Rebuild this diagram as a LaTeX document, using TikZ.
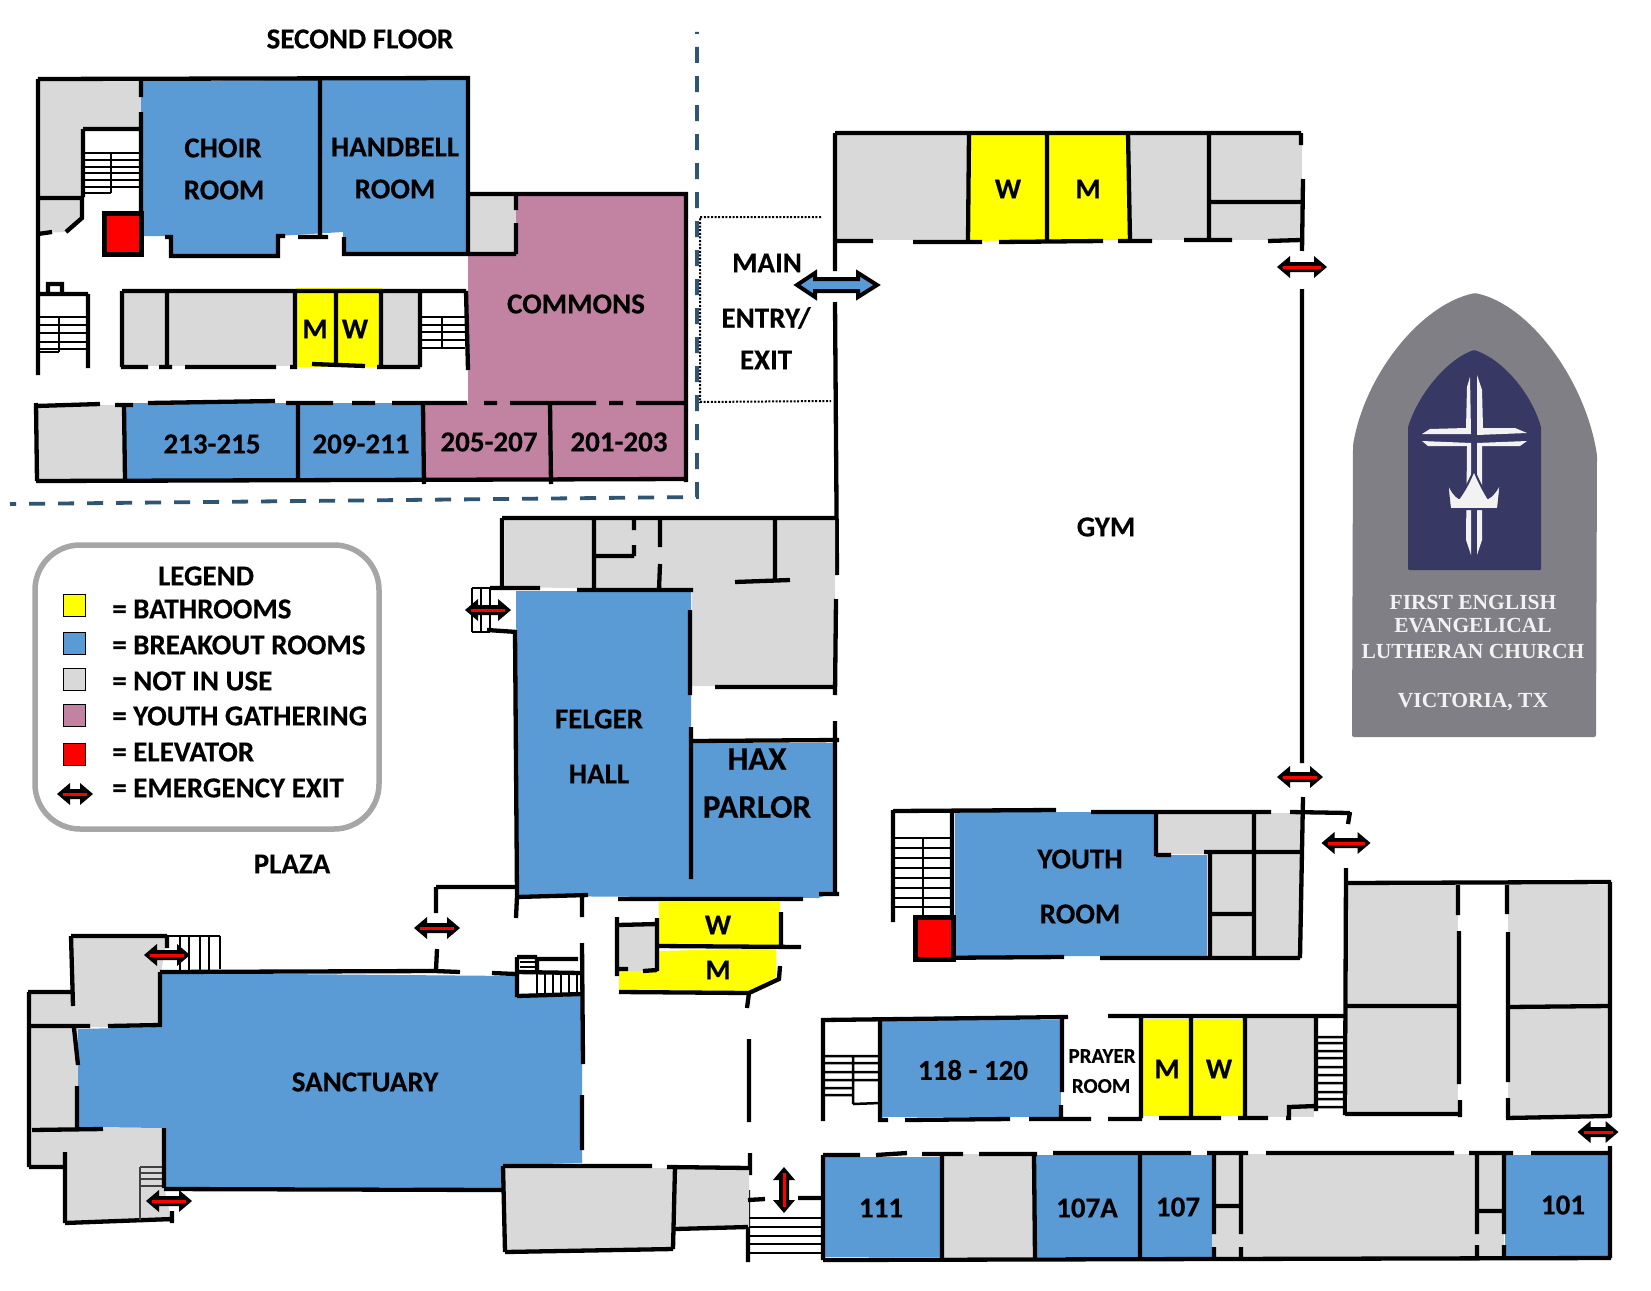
\documentclass[tikz,border=0pt]{standalone}
\usepackage{fontspec}
\setmainfont{Carlito}[BoldFeatures={FakeBold=0.25}]
\newfontfamily\logofont{Liberation Serif}
\definecolor{rblue}{HTML}{5B9BD5}
\definecolor{rgray}{HTML}{D9D9D9}
\definecolor{rpurple}{HTML}{C283A3}
\definecolor{ryellow}{HTML}{FFFF00}
\definecolor{rred}{HTML}{FF0000}
\definecolor{dashblue}{HTML}{2F5573}
\definecolor{logogray}{HTML}{807F85}
\definecolor{logonavy}{HTML}{383864}
\definecolor{logowhite}{HTML}{F2F2F2}
\definecolor{legendline}{HTML}{A6A6A6}
\tikzset{
  wall/.style={line width=4.3pt,black},
  tread/.style={line width=2.5pt,black},
  blueroom/.style={fill=rblue},
  grayroom/.style={fill=rgray},
  yellowroom/.style={fill=ryellow},
  purpleroom/.style={fill=rpurple},
  lift/.style={fill=rred,draw=black,line width=5pt},
  lbl/.style={font=\fontsize{29}{32}\bfseries\selectfont,inner sep=0pt,text=black},
  widelbl/.style={font=\fontsize{33}{36}\bfseries\selectfont,inner sep=0pt,text=black},
  smalllbl/.style={font=\fontsize{21}{24}\bfseries\selectfont,inner sep=0pt,text=black},
  leglbl/.style={font=\fontsize{29}{32}\bfseries\selectfont,inner sep=0pt,text=black,anchor=west},
  swatch/.style={draw=black,line width=0.8pt,minimum width=22pt,minimum height=22pt,inner sep=0pt},
  logotxt/.style={font=\fontsize{21.5}{24}\bfseries\logofont\selectfont,inner sep=0pt,text=logowhite},
}
\newcommand{\exitarw}[4]{%
  \begin{scope}[shift={(#1,#2)},rotate=#4]
    \fill[black] (-#3,0) -- ({-#3+13},-11) -- ({-#3+13},-5) -- ({#3-13},-5) -- ({#3-13},-11) -- (#3,0)
      -- ({#3-13},11) -- ({#3-13},5) -- ({-#3+13},5) -- ({-#3+13},11) -- cycle;
    \draw[rred,line width=3pt] ({-#3+6},0) -- ({#3-6},0);
  \end{scope}}
\begin{document}
\begin{tikzpicture}[x=1pt,y=-1pt]
\useasboundingbox[fill=white] (0,0) rectangle (1651,1290);

%% ---------- second floor fills
\fill[grayroom] (38,79) -- (141,79) -- (141,129) -- (83,129) -- (83,197) -- (38,197) -- cycle;
\fill[grayroom] (38,200) -- (82,200) -- (82,218) -- (66,232) -- (38,233) -- cycle;
\fill[blueroom] (141,81) -- (468,79) -- (468,253) -- (344,253) -- (343,232) -- (278,236) -- (278,255) -- (171,256) -- (170,236) -- (141,236) -- cycle;
\fill[grayroom] (468,196) -- (516,196) -- (516,254) -- (468,254) -- cycle;
\fill[purpleroom] (516,196) -- (686,196) -- (686,403) -- (468,403) -- (468,254) -- (516,254) -- cycle;
\fill[grayroom] (37,405) rectangle (124,480);
\fill[blueroom] (124,403) rectangle (423,480);
\fill[purpleroom] (423,403) rectangle (686,480);
\fill[grayroom] (122,291) rectangle (420,366);
\fill[yellowroom] (296,288) rectangle (382,367);

%% ---------- second floor walls
\draw[wall] (38,79) -- (470,78) (38,79) -- (38,375)
  (141,79) -- (141,97) (141,112) -- (141,236)
  (83,129) -- (141,129) (83,129) -- (83,197) (38,198) -- (83,198)
  (82,197) -- (82,218) -- (66,232) (38,234) -- (52,232)
  (165,237) -- (171,237) -- (171,256) -- (278,256) -- (278,236) -- (285,236)
  (298,237) -- (328,237) (320,79) -- (320,238)
  (344,237) -- (344,254) -- (516,254) (468,79) -- (468,254)
  (468,194) -- (688,194) (686,194) -- (686,482)
  (516,194) -- (516,210) (516,223) -- (516,254)
  (36,406) -- (100,404) (115,405) -- (133,405) (148,403) -- (275,401) (286,403) -- (333,403)
  (352,403) -- (375,403) (392,403) -- (467,403) (484,403) -- (497,403) (510,403) -- (596,403)
  (609,403) -- (623,403) (636,403) -- (686,403)
  (36,481) -- (686,479) (36,403) -- (37,481)
  (124,405) -- (125,480) (298,403) -- (298,480) (423,405) -- (424,484) (550,403) -- (551,484)
  (122,291) -- (466,291) (122,291) -- (122,367)
  (121,367) -- (148,367) (159,367) -- (172,367) (185,367) -- (276,367) (290,367) -- (297,367)
  (312,364) -- (365,366) (377,367) -- (420,367)
  (167,291) -- (167,367) (295,291) -- (295,367) (336,291) -- (336,364) (381,291) -- (381,367) (420,291) -- (420,367)
  (466,291) -- (468,370)
  (38,294) -- (88,294) (88,294) -- (88,368)
  (48,292) -- (48,284) -- (62,284) -- (62,292);
\draw[tread] (83,153) -- (141,153) (83,160) -- (141,160) (83,167) -- (141,167) (83,173) -- (141,173)
  (83,180) -- (141,180) (83,187) -- (141,187) (83,193) -- (111,193) (111,153) -- (111,193)
  (420,317) -- (465,317) (420,325) -- (465,325) (420,332) -- (465,332) (420,340) -- (465,340)
  (420,348) -- (465,348) (442,317) -- (442,347)
  (38,317) -- (88,317) (38,325) -- (88,325) (38,333) -- (88,333) (38,342) -- (88,342) (38,349) -- (88,349)
  (59,317) -- (59,352) (38,352) -- (59,352);
\node[lift,minimum width=37pt,minimum height=41pt,inner sep=0pt] (elevtwo) at (123,234) {};

%% ---------- second floor boundary and entry
\draw[dashblue,line width=3.8pt,dash pattern=on 16pt off 13pt,dash phase=14pt] (697,32) -- (697,497) -- (10,504);
\draw[black,line width=2pt,dash pattern=on 2pt off 1.6pt] (821,217) -- (700,217) -- (700,402) -- (831,401);

%% ---------- gym wing fills
\fill[grayroom] (837,135) rectangle (1302,240);
\fill[yellowroom] (970,135) -- (1128,135) -- (1130,239) -- (968,241) -- cycle;

\draw[wall] (835,133) -- (1301,133) (835,133) -- (835,271) (835,302) -- (837,575)
  (837,241) -- (873,241) (913,242) -- (982,242) (999,242) -- (1103,241) (1118,241) -- (1152,241)
  (1184,240) -- (1232,240) (1268,241) -- (1301,240)
  (969,133) -- (968,241) (1047,133) -- (1047,241) (1128,133) -- (1130,241) (1209,133) -- (1209,239)
  (1209,202) -- (1302,202) (1301,133) -- (1301,145) (1303,179) -- (1302,251)
  (1302,289) -- (1302,763);

%% ---------- Felger wing fills
\fill[grayroom] (505,520) -- (835,520) -- (835,687) -- (692,686) -- (692,590) -- (505,587) -- cycle;
\fill[blueroom] (516,591) -- (691,591) -- (691,743) -- (833,743) -- (833,893) -- (818,898) -- (518,896) -- cycle;
\fill[yellowroom] (659,902) rectangle (780,945);
\fill[yellowroom] (659,951) -- (776,948) -- (776,977) -- (749,991) -- (619,991) -- (619,971) -- (659,971) -- cycle;
\fill[grayroom] (619,927) -- (657,925) -- (657,971) -- (619,971) -- cycle;

\draw[wall] (502,518) -- (837,518) (502,518) -- (502,586)
  (490,588) -- (540,588) (577,590) -- (693,590)
  (594,518) -- (594,590) (634,518) -- (634,530) (634,545) -- (634,556) (594,556) -- (634,556)
  (660,518) -- (660,547) (660,564) -- (659,590)
  (775,518) -- (775,579) (735,582) -- (790,580)
  (836,599) -- (835,695) (835,721) -- (835,895) (715,687) -- (835,687)
  (690,610) -- (690,695) (691,727) -- (691,879)
  (693,741) -- (839,740) (819,894) -- (839,894)
  (487,630) -- (517,632) (515,630) -- (517,896)
  (517,897) -- (588,895) (618,899) -- (803,899)
  (582,897) -- (582,917) (517,896) -- (516,918)
  (617,917) -- (617,976) (617,925) -- (658,924) (657,918) -- (657,971)
  (617,969) -- (628,969) (643,971) -- (657,970) (657,946) -- (801,947) (781,912) -- (781,945)
  (619,992) -- (749,993) -- (779,979) -- (780,966) (749,993) -- (747,1008)
  (749,1039) -- (749,1122) (750,1153) -- (750,1175) (748,1190) -- (748,1262);
\draw[tread] (472,588) -- (490,588) (472,632) -- (490,632) (472,588) -- (472,632) (481,588) -- (481,632) (490,588) -- (490,632);

%% ---------- sanctuary fills
\fill[grayroom] (71,937) -- (167,937) -- (161,973) -- (161,1027) -- (32,1027) -- (29,992) -- (71,992) -- cycle;
\fill[grayroom] (31,1028) -- (78,1028) -- (78,1128) -- (31,1128) -- cycle;
\fill[grayroom] (31,1131) -- (103,1128) -- (164,1128) -- (164,1187) -- (172,1222) -- (65,1223) -- (65,1167) -- (29,1167) -- cycle;
\fill[blueroom] (161,973) -- (516,976) -- (516,997) -- (582,996) -- (582,1163) -- (503,1165) -- (503,1188) -- (164,1187) -- (164,1128) -- (78,1127) -- (78,1029) -- (161,1027) -- cycle;
\fill[grayroom] (505,1168) -- (675,1168) -- (749,1168) -- (749,1227) -- (675,1228) -- (673,1250) -- (505,1250) -- cycle;

\draw[wall] (71,936) -- (167,936) (71,936) -- (73,1006) (28,992) -- (73,992) (29,992) -- (29,1167)
  (29,1167) -- (65,1167) (65,1152) -- (65,1223) (65,1223) -- (172,1219) (172,1211) -- (172,1223)
  (160,972) -- (160,1027) (160,972) -- (435,971) (435,971) -- (460,972) (492,973) -- (516,974)
  (436,887) -- (516,887) (436,887) -- (436,913) (437,949) -- (436,970)
  (31,1026) -- (90,1026) (108,1026) -- (160,1025)
  (74,1028) -- (78,1065) (77,1086) -- (77,1127) (32,1130) -- (103,1129)
  (164,1128) -- (164,1188) (164,1189) -- (503,1190)
  (167,936) -- (167,948)
  (517,957) -- (517,997) (517,957) -- (537,957) (537,959) -- (578,959) (537,957) -- (537,971)
  (517,972) -- (582,973) (517,996) -- (582,994)
  (582,943) -- (583,1064) (582,1095) -- (582,1150)
  (503,1166) -- (652,1166) (667,1167) -- (750,1168) (503,1166) -- (505,1252) (505,1252) -- (673,1249)
  (675,1167) -- (673,1249) (675,1229) -- (748,1227)
  (748,1200) -- (765,1199) (798,1198) -- (823,1198);
\draw[tread] (167,936) -- (220,936) (220,936) -- (220,969) (180,936) -- (180,970) (189,936) -- (189,970)
  (200,936) -- (200,970) (209,936) -- (209,970)
  (520,962) -- (537,962) (520,967) -- (537,967)
  (537,973) -- (537,994) (545,973) -- (545,994) (553,973) -- (553,994) (561,973) -- (561,994) (569,973) -- (569,994) (577,973) -- (577,994)
  (749,1218) -- (823,1218) (749,1227) -- (823,1227) (749,1236) -- (823,1236) (749,1244) -- (823,1244) (749,1253) -- (823,1253);
\draw[line width=1.4pt,black!75] (140,1167) -- (140,1220) (140,1167) -- (162,1167) (140,1173) -- (162,1173) (140,1179) -- (162,1179) (140,1186) -- (162,1186);

%% ---------- youth room wing
\fill[blueroom] (955,812) -- (1155,812) -- (1155,855) -- (1207,855) -- (1207,956) -- (955,956) -- cycle;
\fill[grayroom] (1158,813) -- (1301,813) -- (1300,957) -- (1211,957) -- (1211,854) -- (1158,854) -- cycle;
\draw[wall] (893,811) -- (1056,810) (1091,812) -- (1271,812) (893,810) -- (893,922) (952,812) -- (952,917)
  (914,958) -- (1064,957) (1100,958) -- (1300,958)
  (1156,812) -- (1156,856) (1156,855) -- (1171,855) (1204,852) -- (1301,852)
  (1210,852) -- (1210,958) (1254,812) -- (1254,958) (1210,914) -- (1254,914)
  (1303,797) -- (1300,958) (1290,812) -- (1350,813) (1350,812) -- (1348,824);
\draw[tread] (893,838) -- (952,838) (893,848) -- (952,848) (893,858) -- (952,858) (893,868) -- (952,868)
  (893,878) -- (952,878) (893,888) -- (952,888) (893,898) -- (952,898) (893,907) -- (952,907) (923,838) -- (923,917);
\node[lift,minimum width=38pt,minimum height=42pt,inner sep=0pt] (elevone) at (934,938) {};

%% ---------- east block
\fill[grayroom] (1348,885) rectangle (1458,1113);
\fill[grayroom] (1508,885) rectangle (1609,1116);
\draw[wall] (1346,868) -- (1345,1115) (1346,883) -- (1611,882) (1610,882) -- (1610,1117)
  (1458,885) -- (1458,915) (1459,931) -- (1459,1084) (1460,1100) -- (1460,1117)
  (1507,885) -- (1507,914) (1508,932) -- (1508,1082) (1508,1098) -- (1508,1118)
  (1346,1006) -- (1459,1006) (1508,1007) -- (1610,1006)
  (1345,1114) -- (1460,1114) (1506,1118) -- (1611,1116);

%% ---------- row 118
\fill[blueroom] (882,1020) rectangle (1061,1117);
\fill[yellowroom] (1142,1019) rectangle (1244,1116);
\fill[grayroom] (1247,1018) rectangle (1314,1117);
\draw[wall] (822,1020) -- (1068,1017) (1108,1016) -- (1346,1016) (823,1018) -- (823,1121) (880,1019) -- (880,1122)
  (1062,1019) -- (1062,1092) (1061,1105) -- (1061,1118)
  (880,1120) -- (888,1120) (905,1120) -- (1010,1119) (1029,1119) -- (1091,1119) (1108,1119) -- (1142,1119)
  (1159,1118) -- (1221,1118) (1238,1118) -- (1268,1118) (1286,1118) -- (1291,1118)
  (1141,1017) -- (1141,1118) (1191,1017) -- (1191,1117) (1245,1017) -- (1245,1118) (1316,1017) -- (1316,1111)
  (1289,1119) -- (1289,1107) -- (1316,1106);
\draw[tread] (823,1056) -- (880,1056) (823,1063) -- (880,1063) (823,1072) -- (880,1072) (823,1080) -- (880,1080)
  (823,1088) -- (853,1088) (823,1095) -- (853,1095) (853,1056) -- (853,1104) (853,1104) -- (880,1103)
  (1317,1037) -- (1345,1037) (1317,1043) -- (1345,1043) (1317,1051) -- (1345,1051) (1317,1058) -- (1345,1058)
  (1317,1067) -- (1345,1067) (1317,1075) -- (1345,1075) (1317,1083) -- (1345,1083) (1317,1092) -- (1345,1092)
  (1317,1099) -- (1345,1099) (1317,1107) -- (1345,1107);

%% ---------- row 111
\fill[blueroom] (824,1157) rectangle (941,1257);
\fill[grayroom] (943,1154) rectangle (1034,1257);
\fill[blueroom] (1036,1155) rectangle (1212,1257);
\fill[grayroom] (1212,1154) rectangle (1504,1257);
\fill[blueroom] (1505,1155) rectangle (1609,1257);
\draw[wall] (823,1155) -- (860,1155) (876,1155) -- (907,1153) (922,1154) -- (963,1154) (979,1154) -- (1037,1154)
  (1053,1153) -- (1191,1153) (1207,1153) -- (1248,1153) (1266,1153) -- (1454,1153) (1469,1153) -- (1513,1153) (1531,1153) -- (1610,1153)
  (823,1260) -- (1611,1258) (823,1155) -- (823,1260) (1610,1146) -- (1610,1258)
  (942,1155) -- (942,1258) (1034,1155) -- (1035,1258) (1140,1155) -- (1140,1258)
  (1214,1155) -- (1214,1234) (1214,1247) -- (1214,1258) (1241,1155) -- (1241,1234) (1241,1247) -- (1241,1258)
  (1214,1206) -- (1241,1206)
  (1477,1155) -- (1477,1234) (1477,1245) -- (1477,1258) (1504,1155) -- (1504,1234) (1504,1245) -- (1504,1258)
  (1477,1211) -- (1504,1211);

%% ---------- exits
\exitarw{1302}{267}{25}{0}
\exitarw{1300}{777}{23}{0}
\exitarw{1346}{843}{24.5}{0}
\exitarw{1598}{1132}{20.5}{0}
\exitarw{488}{610}{23}{0}
\exitarw{437}{928}{23}{0}
\exitarw{167}{955}{23}{0}
\exitarw{169}{1201}{23}{0}
\exitarw{784}{1190}{23}{90}

%% ---------- main entry arrow
\draw[fill=rblue,draw=black,line width=4pt,miter limit=10]
  (797,285) -- (815,273) -- (815,279) -- (858,279) -- (858,273) -- (877,285) -- (858,297) -- (858,291) -- (815,291) -- (815,297) -- cycle;

%% ---------- room labels
\node[lbl] (secondfloor) at (360,39) {SECOND FLOOR};
\node[lbl] (choira) at (223,148) {CHOIR};
\node[lbl] (choirb) at (224,190) {ROOM};
\node[lbl] (bella) at (395,147) {HANDBELL};
\node[lbl] (bellb) at (395,189) {ROOM};
\node[lbl] (commons) at (576,304) {COMMONS};
\node[lbl] (mtwo) at (315,329) {M};
\node[lbl] (wtwo) at (355,329) {W};
\node[lbl] (ra) at (212,444) {213-215};
\node[lbl] (rb) at (361,444) {209-211};
\node[lbl] (rc) at (489,442) {205-207};
\node[lbl] (rd) at (619,442) {201-203};
\node[lbl] (maina) at (767,263) {MAIN};
\node[lbl] (mainb) at (766,318) {ENTRY/};
\node[lbl] (mainc) at (766,360) {EXIT};
\node[lbl] (wgym) at (1008,189) {W};
\node[lbl] (mgym) at (1088,189) {M};
\node[lbl] (gym) at (1106,527) {GYM};
\node[lbl] (felgera) at (599,719) {FELGER};
\node[lbl] (felgerb) at (599,774) {HALL};
\node[widelbl] (haxa) at (757,759) {HAX};
\node[widelbl] (haxb) at (757,807) {PARLOR};
\node[lbl] (wfel) at (718,925) {W};
\node[lbl] (mfel) at (718,970) {M};
\node[lbl] (youtha) at (1080,859) {YOUTH};
\node[lbl] (youthb) at (1080,914) {ROOM};
\node[lbl] (plaza) at (292,864) {PLAZA};
\node[lbl] (sanct) at (365,1082) {SANCTUARY};
\node[lbl] (rooma) at (973,1070) {118 - 120};
\node[smalllbl] (prayera) at (1102,1056) {PRAYER};
\node[smalllbl] (prayerb) at (1101,1086) {ROOM};
\node[lbl] (mrow) at (1167,1069) {M};
\node[lbl] (wrow) at (1219,1069) {W};
\node[lbl] (rm111) at (881,1208) {111};
\node[lbl] (rm107a) at (1087,1208) {107A};
\node[lbl] (rm107) at (1178,1207) {107};
\node[lbl] (rm101) at (1563,1205) {101};

%% ---------- legend
\draw[legendline,line width=5.5pt,rounded corners=45pt] (35,545) rectangle (379,829);
\node[lbl] (legend) at (206,576) {LEGEND};
\node[swatch,fill=ryellow] (swa) at (74,605) {};
\node[swatch,fill=rblue] (swb) at (74,643) {};
\node[swatch,fill=rgray] (swc) at (74,679) {};
\node[swatch,fill=rpurple] (swd) at (74,715) {};
\node[swatch,fill=rred] (swe) at (74,754) {};
\exitarw{75}{794}{18}{0}
\node[leglbl] (lega) at (112,609) {= BATHROOMS};
\node[leglbl] (legb) at (112,645) {= BREAKOUT ROOMS};
\node[leglbl] (legc) at (112,681) {= NOT IN USE};
\node[leglbl] (legd) at (112,716) {= YOUTH GATHERING};
\node[leglbl] (lege) at (112,752) {= ELEVATOR};
\node[leglbl] (legf) at (112,788) {= EMERGENCY EXIT};

%% ---------- logo
\fill[logogray,rounded corners=2pt] (1352,737) -- (1353,445) .. controls (1365,375) and (1420,305) .. (1475,293)
  .. controls (1530,305) and (1585,380) .. (1597,455) -- (1596,737) -- cycle;
\fill[logonavy,rounded corners=1pt] (1408,570) -- (1408,427) .. controls (1420,390) and (1450,358) .. (1474,350)
  .. controls (1500,358) and (1530,390) .. (1541,427) -- (1541,570) -- cycle;
\fill[logowhite] (1470,377) -- (1471,434) -- (1422,434) -- (1430,429) -- (1466,428) -- (1467,387) -- cycle;
\fill[logowhite] (1477,375) -- (1482,390) -- (1483,428) -- (1515,428) -- (1527,433) -- (1477,435) -- cycle;
\fill[logowhite] (1422,441) -- (1471,443) -- (1471,555) -- (1466,540) -- (1467,446) -- (1428,446) -- cycle;
\fill[logowhite] (1477,443) -- (1527,441) -- (1520,446) -- (1482,446) -- (1482,540) -- (1477,555) -- cycle;
\draw[logonavy,line width=2pt,fill=logowhite,line join=round] (1450,509) -- (1498,509) -- (1501,481)
  .. controls (1497,490) and (1492,496) .. (1488,498) .. controls (1483,490) and (1478,480) .. (1474,470)
  .. controls (1470,480) and (1465,490) .. (1459,498) .. controls (1455,496) and (1451,490) .. (1447,481) -- cycle;
\node[logotxt] (loga) at (1473,602) {FIRST ENGLISH};
\node[logotxt] (logb) at (1473,626) {EVANGELICAL};
\node[logotxt] (logc) at (1473,651) {LUTHERAN CHURCH};
\node[logotxt] (logd) at (1473,702) {VICTORIA, TX};
\end{tikzpicture}
\end{document}
